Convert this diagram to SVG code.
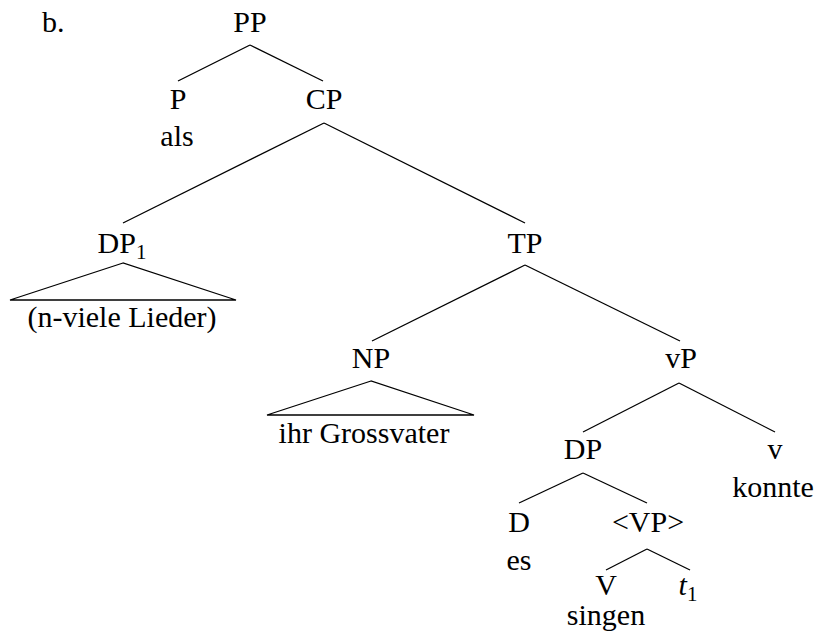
<svg xmlns="http://www.w3.org/2000/svg" width="820" height="644" viewBox="0 0 820 644">
<style>
text{font-size:30px;fill:#000;text-anchor:middle}
.sub{font-size:21px}
line,polygon{stroke:#000;stroke-width:1.3;fill:none}
</style>
<rect width="820" height="644" fill="#fff"/>
<g font-family="Liberation Serif, DejaVu Serif, serif">
<text x="42" y="32" style="text-anchor:start">b.</text>
<g id="connectors">
<line x1="250" y1="45" x2="178" y2="81"/>
<line x1="250" y1="45" x2="323" y2="81"/>
<line x1="324" y1="123" x2="123" y2="223"/>
<line x1="324" y1="123" x2="525" y2="223"/>
<line x1="525" y1="265" x2="372" y2="341"/>
<line x1="525" y1="265" x2="680" y2="341"/>
<line x1="679" y1="383" x2="583" y2="432"/>
<line x1="679" y1="383" x2="775" y2="432"/>
<line x1="583" y1="473" x2="519" y2="503"/>
<line x1="583" y1="473" x2="647" y2="503"/>
<line x1="647" y1="549" x2="606" y2="570"/>
<line x1="647" y1="549" x2="690" y2="570"/>
</g>
<g id="PP"><text x="250" y="32">PP</text></g>
<g id="P"><text x="178" y="109">P</text><text x="177" y="146">als</text></g>
<g id="CP"><text x="324" y="109">CP</text></g>
<g id="DP1"><text x="122" y="253">DP<tspan class="sub" dy="6">1</tspan></text>
<polygon points="123,263 10,300 236,300"/>
<text x="122" y="327">(n-viele Lieder)</text></g>
<g id="TP"><text x="525" y="253">TP</text></g>
<g id="NP"><text x="371" y="368">NP</text>
<polygon points="371,381 267,415 474,415"/>
<text x="364" y="443">ihr Grossvater</text></g>
<g id="vP"><text x="681" y="368">vP</text></g>
<g id="DP"><text x="583" y="459">DP</text></g>
<g id="v"><text x="775" y="459">v</text><text x="773" y="497">konnte</text></g>
<g id="D"><text x="519" y="532">D</text><text x="519" y="570">es</text></g>
<g id="VP"><text x="648" y="532">&lt;VP&gt;</text></g>
<g id="V"><text x="606" y="595">V</text><text x="606" y="625">singen</text></g>
<g id="t1"><text x="688" y="595"><tspan font-style="italic">t</tspan><tspan class="sub" dy="6">1</tspan></text></g>
</g>
</svg>
